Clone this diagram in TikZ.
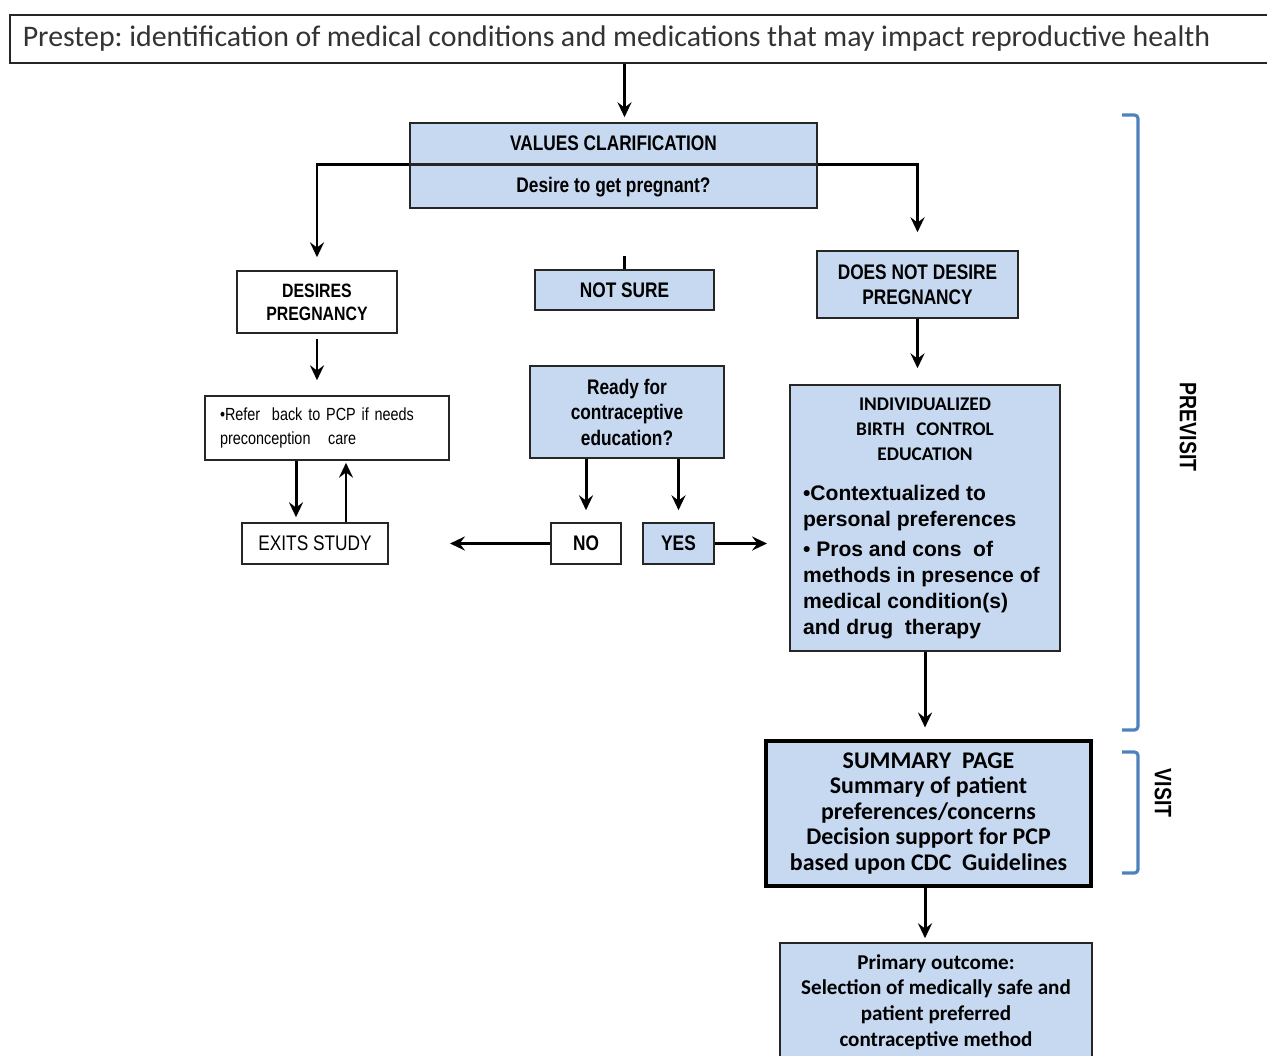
\documentclass[tikz,border=0pt]{standalone}
\usepackage{fontspec}
\setmainfont{Carlito}
\newfontfamily\narrowfont[FakeStretch=0.82]{Liberation Sans}
\newfontfamily\arialfont{Liberation Sans}
\usetikzlibrary{arrows.meta,positioning,calc}
\definecolor{boxblue}{RGB}{198,217,241}
\definecolor{bracketblue}{RGB}{79,129,189}

\begin{document}
\begin{tikzpicture}[x=0.02cm,y=-0.02cm,
    box/.style={draw=black!85,line width=0.9pt,inner sep=0pt,align=center},
    bluebox/.style={box,fill=boxblue},
    caps/.style={font=\narrowfont\bfseries\fontsize{12}{14.5}\selectfont},
    arr/.style={-{Stealth[length=8.5pt,width=8pt,inset=3pt]},line width=1.7pt},
    bracket/.style={bracketblue,line width=1.8pt,rounded corners=2pt}]
  \useasboundingbox (0,0) rectangle (1267,1055);
  \clip (0,0) rectangle (1267,1055);

  % prestep and values clarification
  \node[box,anchor=west,minimum height=0.96cm,text width=25.3cm,inner xsep=0.26cm,align=left,
        text=black!80,font=\fontsize{17}{20}\selectfont] (prestep) at (9,39)
        {\frenchspacing\spaceskip=0.22em Prestep: identification of medical conditions and medications that may impact reproductive health};
  \node[bluebox,caps,minimum width=8.14cm,minimum height=0.82cm] (vtop) at (613.5,143.5) {VALUES CLARIFICATION};
  \node[bluebox,caps,minimum width=8.14cm,minimum height=0.86cm,text depth=0.5ex] (vbot) at (613.5,186.5) {Desire to get pregnant?};

  % three answers
  \node[box,caps,font=\narrowfont\bfseries\fontsize{11}{13}\selectfont,minimum width=3.2cm,minimum height=1.24cm] (desires) at (317,302) {DESIRES\\PREGNANCY};
  \node[bluebox,caps,minimum width=3.58cm,minimum height=0.8cm] (notsure) at (624.5,290) {NOT SURE};
  \node[bluebox,caps,minimum width=4.02cm,minimum height=1.34cm] (doesnot) at (917.5,284.5) {DOES NOT DESIRE\\PREGNANCY};

  % left branch
  \node[box,minimum width=4.88cm,minimum height=1.28cm,text width=4.28cm,inner xsep=0.3cm,align=left,
        font=\narrowfont\fontsize{10}{14}\selectfont] (refer) at (327,428) {\textbullet Refer\ \ back to PCP if needs\\preconception\ \ \ care};
  \node[box,font=\narrowfont\fontsize{12}{14.5}\selectfont,minimum width=2.92cm,minimum height=0.82cm] (exits) at (315,543.5) {EXITS STUDY};

  % middle branch
  \node[bluebox,caps,minimum width=3.88cm,minimum height=1.84cm] (ready) at (627,412) {Ready for\\contraceptive\\education?};
  \node[box,caps,minimum width=1.4cm,minimum height=0.82cm] (no) at (586,543.5) {NO};
  \node[bluebox,caps,minimum width=1.42cm,minimum height=0.82cm] (yes) at (678.5,543.5) {YES};

  % right branch
  \node[bluebox,minimum width=5.4cm,minimum height=5.32cm,text width=4.88cm,align=left] (indiv) at (925,518)
    {{\centering\bfseries\fontsize{11}{14.5}\selectfont INDIVIDUALIZED\\BIRTH\ \ CONTROL\\EDUCATION\par}
     \vspace{8pt}
     {\arialfont\bfseries\fontsize{12}{14.7}\selectfont \textbullet Contextualized to\\personal preferences\par
      \vspace{2.3pt}\textbullet\ Pros and cons\ \ of\\methods in presence of\\medical condition(s)\\and drug\ \ therapy\par}};
  \node[bluebox,draw=black,line width=1.8pt,minimum width=6.5cm,minimum height=2.9cm,
        font=\bfseries\fontsize{13.6}{14.5}\selectfont] (summary) at (928.5,813.5)
        {SUMMARY\ \ PAGE\\Summary of patient\\preferences/concerns\\Decision support for PCP\\based upon CDC\ \ Guidelines};
  \node[bluebox,minimum width=6.24cm,minimum height=2.36cm,font=\bfseries\fontsize{12}{14.6}\selectfont] (primary) at (936,1002)
        {Primary outcome:\\Selection of medically safe and\\patient preferred\\contraceptive method};

  % connectors
  \draw[arr,shorten >=0.1cm] (notsure |- prestep.south) -- (notsure |- vtop.north);
  \draw[arr,shorten >=0.26cm] (vtop.south west) -| (desires.north);
  \draw[arr,shorten >=0.36cm] (vtop.south east) -| (doesnot.north);
  \coordinate (stub) at (624.5,256);
  \draw[line width=1.5pt] (stub) -- (notsure.north);
  \draw[arr,shorten <=0.1cm,shorten >=0.3cm] (desires.south) -- (desires.south |- refer.north);
  \draw[arr,shorten >=0.1cm] ([xshift=-0.62cm]refer.south) -- ([xshift=-0.62cm]refer.south |- exits.north);
  \draw[arr,shorten >=0.04cm] ([xshift=0.38cm]refer.south |- exits.north) -- ([xshift=0.38cm]refer.south);
  \draw[arr,shorten >=0.24cm] (no |- ready.south) -- (no.north);
  \draw[arr,shorten >=0.24cm] (yes |- ready.south) -- (yes.north);
  \coordinate (noend) at (450,543.5);
  \coordinate (yesend) at (767,543.5);
  \draw[arr] (no.west) -- (noend);
  \draw[arr] (yes.east) -- (yesend);
  \draw[arr,shorten >=0.32cm] (doesnot.south) -- (doesnot.south |- indiv.north);
  \draw[arr,shorten >=0.24cm] (indiv.south) -- (indiv.south |- summary.north);
  \draw[arr,shorten >=0.08cm] (indiv |- summary.south) -- (indiv |- primary.north);

  % phase brackets
  \draw[bracket] (1122,115) -- (1138,115) -- (1138,730) -- (1122,730);
  \draw[bracket] (1122,752) -- (1138,752) -- (1138,873) -- (1122,873);
  \node[caps,rotate=-90,font=\narrowfont\bfseries\fontsize{13.5}{15}\selectfont] (previsit) at (1188,427) {PREVISIT};
  \node[caps,rotate=-90,font=\narrowfont\bfseries\fontsize{13.5}{15}\selectfont] (visit) at (1163,793) {VISIT};
\end{tikzpicture}
\end{document}
